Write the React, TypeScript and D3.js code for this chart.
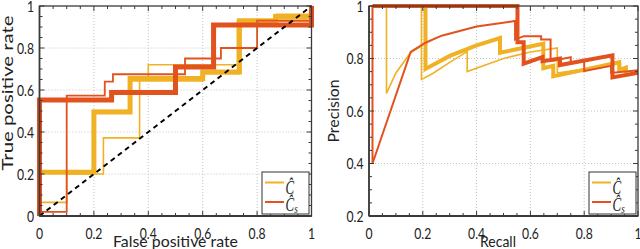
import React from "react";
import * as d3 from "d3";

type Pt = [number, number];

const YELLOW = "#F0B224";
const RED = "#E2521E";

// ROC curves (false positive rate, true positive rate)
const rocYellowThin: Pt[] = [[0,0],[0,0.065],[0.1,0.065],[0.1,0.2],[0.235,0.2],[0.235,0.372],[0.368,0.372],[0.368,0.65],[0.4,0.65],[0.4,0.72],[0.728,0.72],[0.728,0.93],[0.87,0.93],[0.87,0.96],[1,0.96],[1,1]];
const rocYellowMed: Pt[] = [[0,0],[0,0.21],[0.2,0.21],[0.2,0.5],[0.33,0.5],[0.33,0.645],[0.6,0.645],[0.6,0.68],[0.73,0.68],[0.73,0.93],[1,0.93],[1,1]];
const rocYellowThick: Pt[] = [[0,0],[0,0.208],[0.2,0.208],[0.2,0.495],[0.333,0.495],[0.333,0.655],[0.6,0.655],[0.6,0.686],[0.735,0.686],[0.735,0.93],[0.868,0.93],[0.868,0.95],[1,0.95],[1,1]];
const rocRedThin: Pt[] = [[0,0],[0,0.02],[0.1,0.02],[0.1,0.573],[0.24,0.573],[0.24,0.64],[0.27,0.64],[0.27,0.675],[0.535,0.675],[0.535,0.75],[0.667,0.75],[0.667,0.8],[0.8,0.8],[0.8,0.93],[1,0.93],[1,1]];
const rocRedThick: Pt[] = [[0,0],[0,0.552],[0.265,0.552],[0.265,0.588],[0.5,0.588],[0.5,0.71],[0.64,0.71],[0.64,0.91],[1,0.91],[1,1]];
const rocDiagonal: Pt[] = [[0,0],[1,1]];

// Precision-recall curves (recall, precision)
const prYellowThinA: Pt[] = [[0.02,1],[0.065,1],[0.065,0.667],[0.1,0.745],[0.155,0.823],[0.2,0.85]];
const prYellowThinB: Pt[] = [[0.065,1],[0.195,1],[0.195,0.72],[0.24,0.745],[0.3,0.785],[0.365,0.826],[0.365,0.75],[0.5,0.8],[0.6,0.825],[0.7,0.84],[0.7,0.745],[0.8,0.76],[0.935,0.78],[0.935,0.752],[0.96,0.756]];
const prYellowThick: Pt[] = [[0.065,1],[0.21,1],[0.21,0.76],[0.3,0.81],[0.4,0.85],[0.487,0.878],[0.487,0.822],[0.648,0.856],[0.648,0.763],[0.685,0.772],[0.685,0.732],[0.93,0.786],[0.93,0.756],[0.955,0.765],[0.955,0.745]];
const prRedThin: Pt[] = [[0.013,1],[0.013,0.4],[0.155,0.825],[0.21,0.86],[0.27,0.887],[0.4,0.922],[0.543,0.943],[0.543,0.872],[0.575,0.885],[0.64,0.885],[0.64,0.872],[0.675,0.872],[0.675,0.79],[0.75,0.805],[0.75,0.782],[0.8,0.79],[0.8,0.752],[0.9,0.772],[0.9,0.745],[1,0.755]];
const prRedThick: Pt[] = [[0.013,1],[0.552,1],[0.552,0.862],[0.575,0.862],[0.575,0.78],[0.645,0.805],[0.645,0.79],[0.71,0.8],[0.71,0.775],[0.905,0.812],[0.905,0.728],[1,0.746]];

const xTicks = [0, 0.2, 0.4, 0.6, 0.8, 1];
const rocYTicks = [0, 0.2, 0.4, 0.6, 0.8, 1];
const prYTicks = [0.2, 0.4, 0.6, 0.8, 1];
const legendLabels = ["Ĉ", "Ĉ"];
const legendSubs = ["", "s"];

const fmt = (v: number) => (v === 0 ? "0" : v === 1 ? "1" : v.toFixed(1));

interface Series { pts: Pt[]; color: string; width: number; dash?: string }

interface PanelProps {
  left: number; right: number; top: number; bottom: number;
  yDomain: [number, number];
  yTicks: number[];
  series: Series[];
  xLabel: string; xLabelX: number; xLabelLen: number;
  yLabel: string; yLabelX: number; yLabelY: number; yLabelLen: number;
  legendX: number;
}

const SQX = 0.76; // horizontal squeeze of horizontal text

function Panel(p: PanelProps) {
  const x = d3.scaleLinear().domain([0, 1]).range([p.left, p.right]);
  const y = d3.scaleLinear().domain(p.yDomain).range([p.bottom, p.top]);
  const line = d3.line<Pt>().x(d => x(d[0])).y(d => y(d[1]));
  const minorX = d3.range(0, 1.0001, 0.05);
  const minorY = d3.range(p.yDomain[0], p.yDomain[1] + 0.0001, 0.05);
  const axisColor = "#3a3a3a";
  const font = "Lato, 'DejaVu Sans', sans-serif";
  return (
    <g>
      {xTicks.filter(t => t > 0 && t < 1).map(t => (
        <line key={"gx" + t} x1={x(t)} x2={x(t)} y1={p.top} y2={p.bottom} stroke="#c4c4c4" strokeWidth={1} strokeDasharray="1,2" />
      ))}
      {p.yTicks.filter(t => t > p.yDomain[0] && t < p.yDomain[1]).map(t => (
        <line key={"gy" + t} x1={p.left} x2={p.right} y1={y(t)} y2={y(t)} stroke="#c4c4c4" strokeWidth={1} strokeDasharray="1,2" />
      ))}
      {p.series.map((s, i) => (
        <path key={"s" + i} d={line(s.pts) || ""} fill="none" stroke={s.color} strokeWidth={s.width} strokeDasharray={s.dash} strokeLinejoin="miter" strokeLinecap="butt" />
      ))}
      {minorX.map((t, i) => {
        const major = xTicks.some(m => Math.abs(m - t) < 1e-6);
        const len = major ? 5 : 3;
        return (
          <g key={"tx" + i}>
            <line x1={x(t)} x2={x(t)} y1={p.bottom} y2={p.bottom - len} stroke={axisColor} strokeWidth={1} />
            <line x1={x(t)} x2={x(t)} y1={p.top} y2={p.top + len} stroke={axisColor} strokeWidth={1} />
          </g>
        );
      })}
      {minorY.map((t, i) => {
        const major = p.yTicks.some(m => Math.abs(m - t) < 1e-6);
        const len = major ? 5 : 3;
        return (
          <g key={"ty" + i}>
            <line x1={p.left} x2={p.left + len} y1={y(t)} y2={y(t)} stroke={axisColor} strokeWidth={1} />
            <line x1={p.right} x2={p.right - len} y1={y(t)} y2={y(t)} stroke={axisColor} strokeWidth={1} />
          </g>
        );
      })}
      <rect x={p.left} y={p.top} width={p.right - p.left} height={p.bottom - p.top} fill="none" stroke={axisColor} strokeWidth={1.3} />
      <line x1={p.left} x2={p.right} y1={p.bottom} y2={p.bottom} stroke={axisColor} strokeWidth={2} />
      <line x1={p.left} x2={p.left} y1={p.top} y2={p.bottom} stroke={axisColor} strokeWidth={1.6} />
      {xTicks.map(t => (
        <text key={"lx" + t} transform={`translate(${x(t)},239) scale(${SQX},1)`} fontFamily={font} fontSize={16} fill="#222" textAnchor="middle">{fmt(t)}</text>
      ))}
      {p.yTicks.map(t => (
        <text key={"ly" + t} transform={`translate(${p.left - 5.5},${y(t) + 5.8}) scale(${SQX},1)`} fontFamily={font} fontSize={16} fill="#222" textAnchor="end">{fmt(t)}</text>
      ))}
      <text x={p.xLabelX} y={246.5} fontFamily={font} fontSize={16} fill="#222" textAnchor="middle" textLength={p.xLabelLen} lengthAdjust="spacingAndGlyphs">{p.xLabel}</text>
      <text transform={`translate(${p.yLabelX},${p.yLabelY}) rotate(-90)`} fontFamily={font} fontSize={16} fill="#222" textAnchor="middle" textLength={p.yLabelLen} lengthAdjust="spacingAndGlyphs">{p.yLabel}</text>
      <g transform={`translate(${p.legendX},172)`}>
        <rect x={0} y={0} width={47} height={42} fill="#fff" stroke="#333" strokeWidth={1} />
        {[YELLOW, RED].map((c, i) => (
          <g key={"lg" + i}>
            <line x1={3} x2={22} y1={10.5 + i * 19.5} y2={10.5 + i * 19.5} stroke={c} strokeWidth={2} />
            <text transform={`translate(23.5,${22 + i * 16.5}) scale(0.7,1)`} fontFamily="'Liberation Serif', 'DejaVu Serif', serif" fontStyle="italic" fontSize={18.5} fill="#222">
              {legendLabels[i]}
              {legendSubs[i] ? <tspan fontSize={13} dy={2.5}>{legendSubs[i]}</tspan> : null}
            </text>
          </g>
        ))}
      </g>
    </g>
  );
}

export default function App() {
  const rocSeries: Series[] = [
    { pts: rocYellowThick, color: YELLOW, width: 5 },
    { pts: rocYellowMed, color: YELLOW, width: 2.5 },
    { pts: rocYellowThin, color: YELLOW, width: 1.6 },
    { pts: rocRedThin, color: RED, width: 1.8 },
    { pts: rocRedThick, color: RED, width: 5 },
    { pts: rocDiagonal, color: "#000", width: 2, dash: "5,4" },
  ];
  const prSeries: Series[] = [
    { pts: prYellowThinA, color: YELLOW, width: 1.6 },
    { pts: prYellowThinB, color: YELLOW, width: 1.6 },
    { pts: prYellowThick, color: YELLOW, width: 4 },
    { pts: prRedThin, color: RED, width: 2 },
    { pts: prRedThick, color: RED, width: 4 },
  ];
  return (
    <svg width={640} height={249} style={{ position: "absolute", left: 0, top: 0, background: "#fff" }}>
      <rect x={0} y={0} width={640} height={249} fill="#fff" />
      <Panel left={39.5} right={311.5} top={6} bottom={216} yDomain={[0, 1]} yTicks={rocYTicks}
        series={rocSeries} xLabel="False positive rate" xLabelX={175.5} xLabelLen={125}
        yLabel="True positive rate" yLabelX={12.5} yLabelY={93} yLabelLen={155} legendX={262} />
      <Panel left={369} right={638} top={6} bottom={216} yDomain={[0.2, 1]} yTicks={prYTicks}
        series={prSeries} xLabel="Recall" xLabelX={498} xLabelLen={36}
        yLabel="Precision" yLabelX={338.5} yLabelY={111} yLabelLen={63} legendX={589} />
    </svg>
  );
}
